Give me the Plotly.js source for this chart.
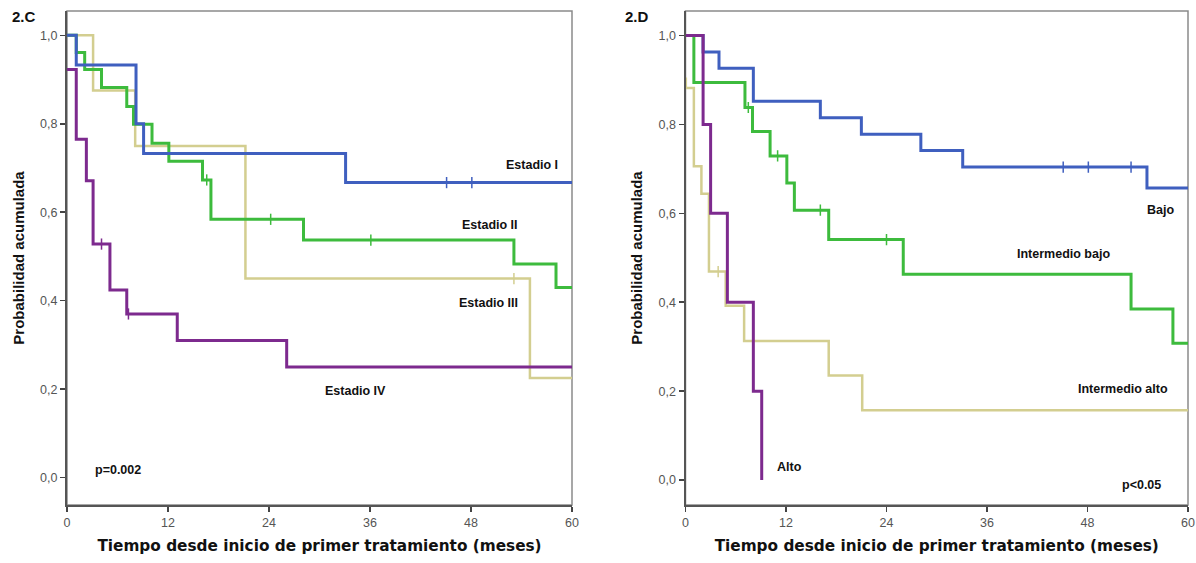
<!DOCTYPE html>
<html>
<head>
<meta charset="utf-8">
<script src="https://cdn.plot.ly/plotly-3.0.1.min.js"></script>
<style>
html,body{margin:0;padding:0;background:#ffffff;}
#chart{width:1196px;height:563px;}
</style>
</head>
<body>
<div id="chart"></div>
<script>
// ---------- Panel 2.C : by stage ----------
var estadioI_t   = [0, 1.1, 8.2, 9.1, 33.1, 60];
var estadioI_s   = [1.0, 0.933, 0.800, 0.733, 0.667, 0.667];
var estadioI_ct  = [45.1, 48.1];
var estadioI_cs  = [0.667, 0.667];

var estadioII_t  = [0, 1.1, 2.1, 4.1, 7.1, 7.9, 10.1, 12.1, 16.1, 17.1, 28.1, 53.1, 58.1, 60];
var estadioII_s  = [1.0, 0.961, 0.923, 0.882, 0.839, 0.799, 0.756, 0.715, 0.673, 0.584, 0.537, 0.483, 0.430, 0.430];
var estadioII_ct = [16.6, 24.2, 36.1];
var estadioII_cs = [0.673, 0.584, 0.537];

var estadioIII_t  = [0, 3.1, 8.1, 21.2, 55.0, 60];
var estadioIII_s  = [1.0, 0.875, 0.750, 0.450, 0.225, 0.225];
var estadioIII_ct = [53.1];
var estadioIII_cs = [0.450];

var estadioIV_t  = [0, 1.1, 2.3, 3.1, 5.1, 7.1, 13.1, 26.1, 60];
var estadioIV_s  = [0.923, 0.765, 0.671, 0.528, 0.424, 0.370, 0.310, 0.250, 0.250];
var estadioIV_ct = [4.1, 7.3];
var estadioIV_cs = [0.528, 0.370];

// ---------- Panel 2.D : by risk group ----------
var bajo_t  = [0, 2.1, 4.0, 8.1, 16.1, 21.0, 28.1, 33.1, 55.1, 60];
var bajo_s  = [1.0, 0.963, 0.926, 0.852, 0.815, 0.778, 0.741, 0.704, 0.657, 0.657];
var bajo_ct = [45.1, 48.1, 53.2];
var bajo_cs = [0.704, 0.704, 0.704];

var intBajo_t  = [0, 1.0, 7.1, 8.0, 10.1, 12.1, 13.0, 17.1, 26.0, 53.2, 58.2, 60];
var intBajo_s  = [1.0, 0.894, 0.838, 0.784, 0.729, 0.668, 0.607, 0.541, 0.463, 0.385, 0.308, 0.308];
var intBajo_ct = [7.5, 11.0, 16.1, 24.0];
var intBajo_cs = [0.838, 0.729, 0.607, 0.541];

var intAlto_t  = [0, 1.0, 1.9, 2.8, 4.8, 7.0, 17.1, 21.1, 60];
var intAlto_s  = [0.882, 0.706, 0.644, 0.469, 0.392, 0.313, 0.235, 0.157, 0.157];
var intAlto_ct = [0.1, 3.9];
var intAlto_cs = [0.893, 0.469];

var alto_t = [0, 2.1, 3.0, 5.0, 8.1, 9.1];
var alto_s = [1.0, 0.8, 0.6, 0.4, 0.2, 0.0];

// ---------- tick labels ----------
var xTickVals = [0, 12, 24, 36, 48, 60];
var xTickText = ["0", "12", "24", "36", "48", "60"];
var yTickVals = [0, 0.2, 0.4, 0.6, 0.8, 1.0];
var yTickText = ["0,0", "0,2", "0,4", "0,6", "0,8", "1,0"];

var cBlue = "#3f5fbf", cGreen = "#3dbb3d", cYellow = "#d3ce90", cPurple = "#7d2a8e";

function step(t, s, color, w, xa, ya, name) {
  return {x: t, y: s, type: "scatter", mode: "lines", name: name,
          line: {shape: "hv", color: color, width: w},
          xaxis: xa, yaxis: ya, hoverinfo: "skip"};
}
function cens(t, s, color, xa, ya, name) {
  return {x: t, y: s, type: "scatter", mode: "markers", name: name + " censurado",
          marker: {symbol: "line-ns", size: 8, line: {color: color, width: 1.5}},
          xaxis: xa, yaxis: ya, hoverinfo: "skip"};
}

var data = [
  step(estadioIII_t, estadioIII_s, cYellow, 2.5, "x", "y", "Estadio III"),
  cens(estadioIII_ct, estadioIII_cs, cYellow, "x", "y", "Estadio III"),
  step(estadioII_t, estadioII_s, cGreen, 3, "x", "y", "Estadio II"),
  cens(estadioII_ct, estadioII_cs, cGreen, "x", "y", "Estadio II"),
  step(estadioI_t, estadioI_s, cBlue, 3, "x", "y", "Estadio I"),
  cens(estadioI_ct, estadioI_cs, cBlue, "x", "y", "Estadio I"),
  step(estadioIV_t, estadioIV_s, cPurple, 3, "x", "y", "Estadio IV"),
  cens(estadioIV_ct, estadioIV_cs, cPurple, "x", "y", "Estadio IV"),

  step(intAlto_t, intAlto_s, cYellow, 2.5, "x2", "y2", "Intermedio alto"),
  cens(intAlto_ct, intAlto_cs, cYellow, "x2", "y2", "Intermedio alto"),
  step(intBajo_t, intBajo_s, cGreen, 3, "x2", "y2", "Intermedio bajo"),
  cens(intBajo_ct, intBajo_cs, cGreen, "x2", "y2", "Intermedio bajo"),
  step(bajo_t, bajo_s, cBlue, 3, "x2", "y2", "Bajo"),
  cens(bajo_ct, bajo_cs, cBlue, "x2", "y2", "Bajo"),
  step(alto_t, alto_s, cPurple, 3, "x2", "y2", "Alto")
];

var tickFont = {family: "Liberation Sans, Arial, sans-serif", size: 12.5, color: "#555"};
var titleFont = {family: "DejaVu Sans, Verdana, sans-serif", size: 15.3, color: "#111", weight: "bold"};
var yTitleFont = {family: "Liberation Sans, Arial, sans-serif", size: 15, color: "#111", weight: "bold"};
var xTitle = "Tiempo desde inicio de primer tratamiento (meses)";
var yTitle = "Probabilidad acumulada";

function xax(domain, anchor) {
  return {domain: domain, anchor: anchor, range: [0, 60], tickvals: xTickVals, ticktext: xTickText,
          ticks: "outside", ticklen: 5, tickwidth: 1.5, tickcolor: "#444",
          showline: true, linecolor: "#555", linewidth: 2, showgrid: false, zeroline: false,
          tickfont: tickFont, fixedrange: true,
          title: {text: xTitle, font: titleFont, standoff: 11}};
}
function yax(range, anchor) {
  return {domain: [0, 1], anchor: anchor, range: range, tickvals: yTickVals, ticktext: yTickText,
          ticks: "outside", ticklen: 5, tickwidth: 1.5, tickcolor: "#444",
          showline: true, linecolor: "#555", linewidth: 2, showgrid: false, zeroline: false,
          tickfont: tickFont, fixedrange: true,
          title: {text: yTitle, font: yTitleFont, standoff: 12}};
}

var lblFont = {family: "Liberation Sans, Arial, sans-serif", size: 12.5, color: "#111", weight: "bold"};
function lbl(text, x, y, xa, ya, anchor) {
  return {text: text, x: x, y: y, xref: xa, yref: ya, xanchor: anchor, yanchor: "middle",
          showarrow: false, font: lblFont};
}

var layout = {
  width: 1196, height: 563,
  margin: {l: 0, r: 0, t: 11, b: 58},
  paper_bgcolor: "#ffffff", plot_bgcolor: "#ffffff",
  showlegend: false,
  xaxis: xax([67/1196, 572/1196], "y"),
  yaxis: yax([-0.062, 1.055], "x"),
  xaxis2: xax([685.5/1196, 1188/1196], "y2"),
  yaxis2: yax([-0.056, 1.055], "x2"),
  shapes: [
    {type: "rect", xref: "x domain", yref: "y domain", x0: 0, x1: 1, y0: 0, y1: 1,
     line: {color: "#8a8a8a", width: 1.5}, layer: "below"},
    {type: "rect", xref: "x2 domain", yref: "y2 domain", x0: 0, x1: 1, y0: 0, y1: 1,
     line: {color: "#8a8a8a", width: 1.5}, layer: "below"}
  ],
  annotations: [
    {text: "2.C", xref: "paper", yref: "paper", x: 10/1196, y: 1 - 5/494, xanchor: "left", yanchor: "middle",
     showarrow: false, font: {family: "Liberation Sans, Arial, sans-serif", size: 15, color: "#111", weight: "bold"}},
    {text: "2.D", xref: "paper", yref: "paper", x: 623/1196, y: 1 - 5/494, xanchor: "left", yanchor: "middle",
     showarrow: false, font: {family: "Liberation Sans, Arial, sans-serif", size: 15, color: "#111", weight: "bold"}},
    lbl("Estadio I", 58.6, 0.706, "x", "y", "right"),
    lbl("Estadio II", 53.8, 0.572, "x", "y", "right"),
    lbl("Estadio III", 53.8, 0.394, "x", "y", "right"),
    lbl("Estadio IV", 34.3, 0.195, "x", "y", "center"),
    lbl("p=0.002", 3.1, 0.018, "x", "y", "left"),
    lbl("Bajo", 58.6, 0.607, "x2", "y2", "right"),
    lbl("Intermedio bajo", 50.9, 0.508, "x2", "y2", "right"),
    lbl("Intermedio alto", 57.9, 0.205, "x2", "y2", "right"),
    lbl("Alto", 10.7, 0.030, "x2", "y2", "left"),
    lbl("p<0.05", 57.0, -0.011, "x2", "y2", "right")
  ]
};

Plotly.newPlot("chart", data, layout, {displayModeBar: false, staticPlot: true});
</script>
</body>
</html>
